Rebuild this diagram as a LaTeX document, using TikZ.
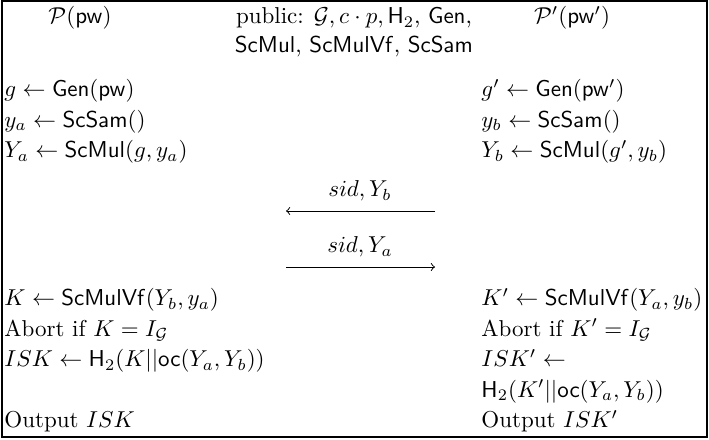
\documentclass[tikz,border=0pt]{standalone}
\usepackage{amsmath,amssymb}
\usepackage{xcolor}
\usepackage{tikz}
\usetikzlibrary{positioning}

\newdimen\pxu
\pxu=0.435pt
\newcommand{\alg}[1]{\mathsf{#1}}

\begin{document}
\begin{tikzpicture}[x=\pxu, y=-\pxu, node distance=30.5*\pxu, on grid, >=to,
    every node/.style={inner sep=0pt},
    cmd/.style={text width=120pt, align=left, text height=7.5pt, text depth=2.5pt},
    party/.style={anchor=center},
    msg/.style={anchor=center}]
    \useasboundingbox (0,0) rectangle (709,439);
    \draw[line width=0.8pt] (2,1) rectangle (707,437);

    % Parties
    \node[party] (pa)   at (80,18)  {$\mathcal{P}(\alg{pw})$};
    \node[party] (pub)  at (354,18) {public: $\mathcal{G}, c\cdot p, \alg{H}_2$, $\alg{Gen}$,};
    \node[party, below=29*\pxu of pub] (pub2) {$\alg{ScMul}$, $\alg{ScMulVf}$, $\alg{ScSam}$};
    \node[party] (pb)   at (572,18) {$\mathcal{P}'(\alg{pw}')$};

    % Left side
    \node[cmd, anchor=west] (a1) at (4,91) {$g \leftarrow \alg{Gen}(\alg{pw})$};
    \node[cmd, below=of a1] (a2) {$y_a \leftarrow \alg{ScSam}()$};
    \node[cmd, below=of a2] (a3) {$Y_a \leftarrow \alg{ScMul}(g, y_a)$};
    \node[cmd, anchor=west] (a4) at (4,300) {$K \leftarrow \alg{ScMulVf}(Y_b, y_a)$};
    \node[cmd, below=of a4] (a5) {Abort if $K = I_{\mathcal{G}}$};
    \node[cmd, below=of a5] (a6) {$ISK \leftarrow \alg{H}_2(K||\alg{oc}(Y_a, Y_b))$};
    \node[cmd, below=61*\pxu of a6] (a7) {Output $ISK$};

    % Right side
    \node[cmd, anchor=west] (b1) at (481,91) {$g' \leftarrow \alg{Gen}(\alg{pw}')$};
    \node[cmd, below=of b1] (b2) {$y_b \leftarrow \alg{ScSam}()$};
    \node[cmd, below=of b2] (b3) {$Y_b \leftarrow \alg{ScMul}(g', y_b)$};
    \node[cmd, anchor=west] (b4) at (481,300) {$K' \leftarrow \alg{ScMulVf}(Y_a, y_b)$};
    \node[cmd, below=of b4] (b5) {Abort if $K' = I_{\mathcal{G}}$};
    \node[cmd, below=of b5] (b6) {$ISK' \leftarrow$};
    \node[cmd, below=of b6] (b7) {$\alg{H}_2(K'||\alg{oc}(Y_a, Y_b))$};
    \node[cmd, below=of b7] (b8) {Output $ISK'$};

    % Messages
    \node[msg] (m1) at (360,191) {$sid, Y_b$};
    \coordinate (m1r) at (435,211);
    \coordinate (m1l) at (286,211);
    \node[msg] (m2) at (360,247) {$sid, Y_a$};
    \coordinate (m2l) at (286,267);
    \coordinate (m2r) at (435,267);
    \draw[->] (m1r) -- (m1l);
    \draw[->] (m2l) -- (m2r);
\end{tikzpicture}
\end{document}
